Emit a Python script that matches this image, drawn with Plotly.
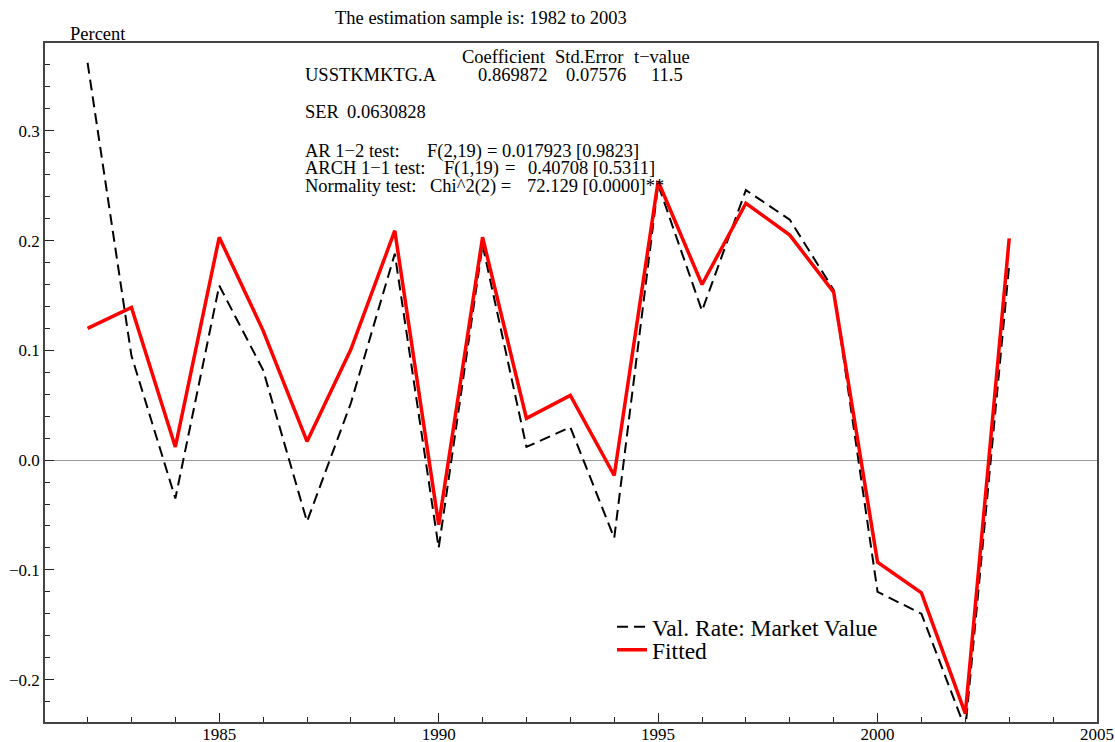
import plotly.graph_objects as go

years = list(range(1982, 2004))
actual = [0.362, 0.095, -0.035, 0.159, 0.082, -0.056, 0.052, 0.188, -0.080, 0.196,
          0.012, 0.030, -0.071, 0.251, 0.136, 0.246, 0.219, 0.155, -0.120, -0.140,
          -0.245, 0.178]
fitted = [0.120, 0.139, 0.012, 0.203, 0.118, 0.017, 0.101, 0.209, -0.059, 0.203,
          0.038, 0.059, -0.014, 0.254, 0.160, 0.234, 0.205, 0.153, -0.093, -0.121,
          -0.231, 0.202]
series_names = ["Val. Rate: Market Value", "Fitted"]

W, H = 1115, 742
L, T = 45, 43
R = W - 1097
B = H - 722
PW, PH = W - L - R, H - T - B

def px(x):
    return (x - L) / PW

def py(y):
    return (H - B - y) / PH

FONT = "Liberation Serif, Times New Roman, serif"
TS = 18.5

fig = go.Figure()
fig.add_trace(go.Scatter(x=years, y=actual, mode="lines", name=series_names[0],
                         legend="legend",
                         line=dict(color="black", width=2, dash="11px,6px")))
fig.add_trace(go.Scatter(x=years, y=fitted, mode="lines", name=series_names[1],
                         legend="legend2",
                         line=dict(color="#ff0000", width=3.5)))

axis_common = dict(showline=True, linecolor="#444", linewidth=1.5, mirror=True,
                   showgrid=False, ticks="inside", tickcolor="#222", tickwidth=1,
                   tickfont=dict(family=FONT, size=17, color="black"))

fig.update_xaxes(range=[1981.03, 2005.0], tick0=1985, dtick=5, ticklen=9,
                 ticklabelstandoff=-4, ticklabeloverflow="allow",
                 minor=dict(ticks="inside", ticklen=5, dtick=1, tickcolor="#222"),
                 zeroline=False, **axis_common)
fig.update_yaxes(range=[-0.2386, 0.380], tick0=0, dtick=0.1, ticklen=9, tickformat=".1f",
                 minor=dict(ticks="inside", ticklen=5, dtick=0.02, tickcolor="#222"),
                 zeroline=True, zerolinecolor="#999", zerolinewidth=1, **axis_common)

ann = []
def text(x, y, s, anchor="left", size=TS):
    ann.append(dict(x=px(x), y=py(y), xref="paper", yref="paper", text=s,
                    showarrow=False, xanchor=anchor, yanchor="middle",
                    font=dict(family=FONT, size=size, color="black")))

text(481, 18, "The estimation sample is: 1982 to 2003", "center")
text(68, 34, "Percent")
text(460, 57, "Coefficient")
text(553, 57, "Std.Error")
text(632, 57, "t\u2212value")
text(303, 75, "USSTKMKTG.A")
text(549, 75, "0.869872", "right")
text(628, 75, "0.07576", "right")
text(685, 75, "11.5", "right")
text(303, 112, "SER")
text(345, 112, "0.0630828")
text(303, 151, "AR 1\u22122 test:")
text(425, 151, "F(2,19)")
text(485, 151, "= 0.017923 [0.9823]")
text(303, 168, "ARCH 1\u22121 test:")
text(442, 168, "F(1,19)")
text(503, 168, "=")
text(526, 168, "0.40708 [0.5311]")
text(303, 186, "Normality test:")
text(428, 186, "Chi^2(2) =")
text(525, 186, "72.129 [0.0000]**")

leg_common = dict(xanchor="left", yanchor="middle", bgcolor="rgba(0,0,0,0)",
                  borderwidth=0, font=dict(family=FONT, size=23.5, color="black"))

fig.update_layout(
    width=W, height=H,
    margin=dict(l=L, r=R, t=T, b=B, autoexpand=False),
    paper_bgcolor="white", plot_bgcolor="white",
    annotations=ann,
    showlegend=True,
    legend=dict(x=px(612), y=py(627), **leg_common),
    legend2=dict(x=px(612), y=py(650), **leg_common),
)

fig.write_html("out.html", config={"displayModeBar": False},
               post_script="document.body.style.margin='0';document.body.style.overflow='hidden';")
